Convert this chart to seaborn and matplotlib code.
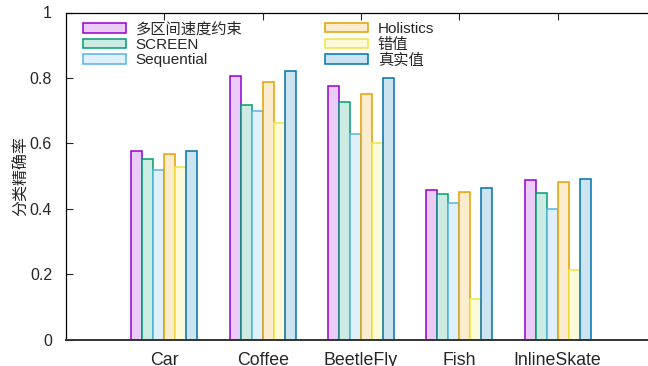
import matplotlib
matplotlib.use("Agg")
import matplotlib.pyplot as plt
from matplotlib.patches import Patch
import pandas as pd
import seaborn as sns

# Classification accuracy per dataset and method
datasets = ["Car", "Coffee", "BeetleFly", "Fish", "InlineSkate"]
methods = ["多区间速度约束", "SCREEN", "Sequential", "Holistics", "错值", "真实值"]

multi_interval = [0.576, 0.805, 0.776, 0.458, 0.487]
screen = [0.552, 0.716, 0.726, 0.444, 0.449]
sequential = [0.518, 0.698, 0.627, 0.417, 0.400]
holistics = [0.568, 0.787, 0.752, 0.452, 0.481]
dirty = [0.527, 0.663, 0.602, 0.123, 0.214]
truth = [0.576, 0.822, 0.801, 0.464, 0.490]

edge_colors = ["#9400D3", "#009E73", "#56B4E9", "#E69F00", "#F0E442", "#0072B2"]
face_colors = ["#EACCF6", "#CCECE3", "#DDF0FB", "#FAECCC", "#FCFAD9", "#CCE3F0"]

series = [multi_interval, screen, sequential, holistics, dirty, truth]
df = pd.DataFrame(
    [(d, m, v) for m, vals in zip(methods, series) for d, v in zip(datasets, vals)],
    columns=["dataset", "method", "accuracy"],
)

sns.set_style("white")
plt.rcParams["font.family"] = ["Liberation Sans", "Noto Sans CJK SC", "DejaVu Sans"]

fig = plt.figure(figsize=(6.48, 3.66), dpi=100)
ax = fig.add_axes([66 / 648, 26.5 / 366, 590 / 648, 327 / 366])

sns.barplot(
    data=df, x="dataset", y="accuracy", hue="method",
    order=datasets, hue_order=methods, palette=face_colors,
    width=0.67, gap=0, saturation=1, errorbar=None, legend=False, ax=ax,
)
for cont, ec in zip(ax.containers, edge_colors):
    for bar in cont:
        bar.set_edgecolor(ec)
        bar.set_linewidth(1.1)

ax.set_xlim(-1, 5)
ax.set_ylim(0, 1)
ax.set_yticks([0, 0.2, 0.4, 0.6, 0.8, 1.0])
ax.set_yticklabels(["0", "0.2", "0.4", "0.6", "0.8", "1"])
ax.set_xlabel("")
ax.set_ylabel("分类精确率", fontsize=11.5)
ax.yaxis.set_label_coords(-0.063, 0.5)

for s in ax.spines.values():
    s.set_color("black")
    s.set_linewidth(0.9)
ax.spines["bottom"].set_linewidth(1.4)
ax.spines["bottom"].set_color("#333333")

ax.tick_params(axis="y", direction="in", length=5, width=0.8, pad=10,
               labelsize=11.5, left=True, right=True)
ax.tick_params(axis="x", direction="in", length=5, width=0.8, pad=9,
               labelsize=12.8, bottom=True, top=True)

left_handles = [Patch(facecolor=face_colors[i], edgecolor=edge_colors[i], linewidth=1.1)
                for i in range(3)]
right_handles = [Patch(facecolor=face_colors[i], edgecolor=edge_colors[i], linewidth=1.1)
                 for i in range(3, 6)]
leg_kw = dict(frameon=False, fontsize=11, handlelength=2.8, handleheight=0.55,
              handletextpad=0.65, labelspacing=0.1, borderaxespad=0, borderpad=0)
leg1 = fig.legend(left_handles, methods[:3], loc="upper left",
                  bbox_to_anchor=(83 / 648, 1 - 22 / 366), **leg_kw)
leg2 = fig.legend(right_handles, methods[3:], loc="upper left",
                  bbox_to_anchor=(325 / 648, 1 - 22 / 366), **leg_kw)

fig.savefig("out.png", dpi=100)
